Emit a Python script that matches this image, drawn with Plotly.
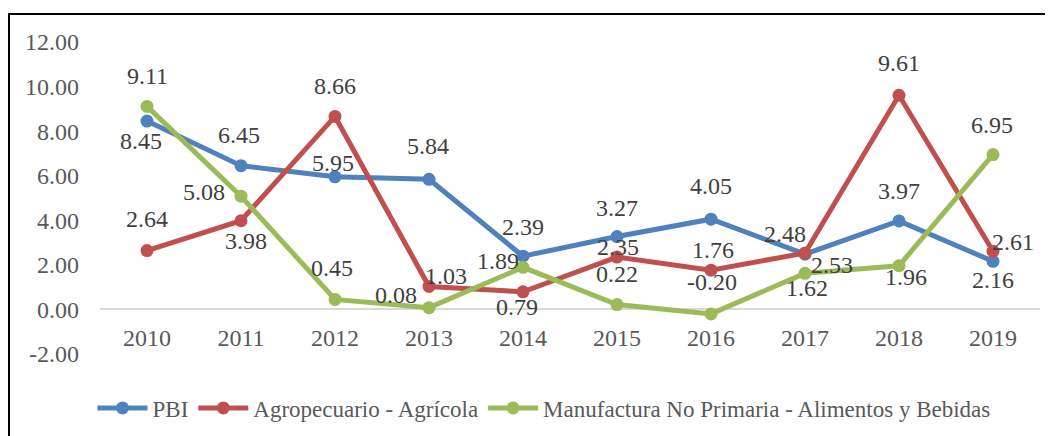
import plotly.graph_objects as go

years = ["2010", "2011", "2012", "2013", "2014", "2015", "2016", "2017", "2018", "2019"]
pbi = [8.45, 6.45, 5.95, 5.84, 2.39, 3.27, 4.05, 2.48, 3.97, 2.16]
agro = [2.64, 3.98, 8.66, 1.03, 0.79, 2.35, 1.76, 2.53, 9.61, 2.61]
manuf = [9.11, 5.08, 0.45, 0.08, 1.89, 0.22, -0.20, 1.62, 1.96, 6.95]

series_names = ["PBI", "Agropecuario - Agrícola", "Manufactura No Primaria - Alimentos y Bebidas"]
y_ticks = [-2, 0, 2, 4, 6, 8, 10, 12]
y_tick_labels = ["-2.00", "0.00", "2.00", "4.00", "6.00", "8.00", "10.00", "12.00"]

# label offsets (pixels, dx right, dy down) relative to each point
pbi_off = [(-6, 20), (-2, -31), (-2, -14), (-1, -33), (0, -29), (0, -29), (0, -33), (-20, -20), (0, -30), (0, 19)]
agro_off = [(0, -32), (5, 20), (0, -30), (17, -10), (-6, 15), (1, -10), (2, -20), (27, 12), (0, -32), (20, -9)]
manuf_off = [(0, -30), (-37, -4), (-3, -31), (-33, -13), (-25, -6), (0, -31), (1, -32), (2, 15), (7, 11), (-1, -30)]

colors = ["#4F81BD", "#C0504D", "#9BBB59"]
FONT = "Liberation Serif"
FS = 24

# page body has an 8px margin; layout is compensated for it
L, T, PW, PH = 92, 34, 940, 312

fig = go.Figure()
for name, vals, col in zip(series_names, [pbi, agro, manuf], colors):
    fig.add_trace(go.Scatter(
        x=years, y=vals, name=name, mode="lines+markers",
        line=dict(color=col, width=5),
        marker=dict(color=col, size=13),
    ))

annotations = []
for vals, offs in zip([pbi, agro, manuf], [pbi_off, agro_off, manuf_off]):
    for i, (v, (dx, dy)) in enumerate(zip(vals, offs)):
        annotations.append(dict(
            x=i, y=v, xref="x", yref="y", text=f"{v:.2f}", showarrow=False,
            xshift=dx, yshift=-dy,
            font=dict(family=FONT, size=FS, color="#404040"),
        ))

fig.update_layout(
    width=1053, height=436,
    margin=dict(l=L, r=1053 - L - PW, t=T, b=436 - T - PH, autoexpand=False),
    paper_bgcolor="white", plot_bgcolor="white",
    font=dict(family=FONT, size=FS, color="#595959"),
    annotations=annotations,
    showlegend=True,
    legend=dict(orientation="h", x=(536 - L) / PW, xanchor="center",
                y=(T + PH - 400) / PH, yanchor="middle",
                font=dict(family=FONT, size=23, color="#595959"), itemwidth=50,
                bgcolor="rgba(0,0,0,0)"),
    shapes=[dict(type="rect", xref="paper", yref="paper",
                 x0=(1 - L) / PW, x1=1.1, y0=-0.6, y1=(T + PH - 6) / PH,
                 line=dict(color="black", width=2), fillcolor="rgba(0,0,0,0)")],
)
fig.update_xaxes(
    type="category", range=[-0.5, 9.5], anchor="free", position=2 / 14, showline=False,
    showgrid=False, zeroline=False, ticks="", automargin=False,
    tickfont=dict(family=FONT, size=FS, color="#595959"), ticklabelstandoff=12,
)
fig.update_yaxes(
    range=[-2, 12], tickvals=y_ticks, ticktext=y_tick_labels, showgrid=False,
    zeroline=True, zerolinecolor="#D9D9D9", zerolinewidth=2, showline=False, automargin=False,
    tickfont=dict(family=FONT, size=FS, color="#595959"), ticklabelstandoff=20,
)
fig.write_html("out.html")
